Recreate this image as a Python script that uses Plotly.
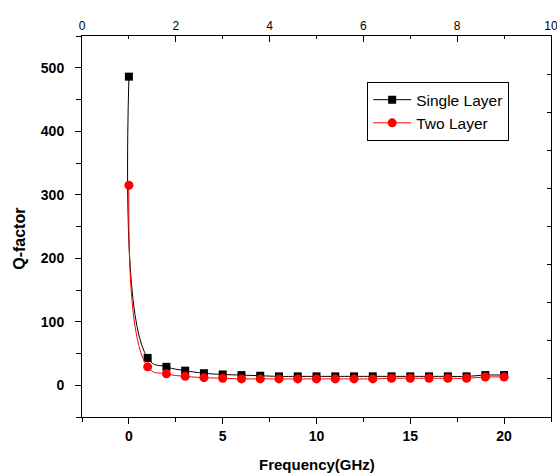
import plotly.graph_objects as go

freq = list(range(0, 21))
single_layer = [486, 43, 29, 23, 19, 17, 16, 15, 14, 14, 14, 14, 14, 14, 14, 14, 14, 14, 14, 16, 16]
two_layer = [315, 29, 18, 14, 12, 11, 10, 10, 10, 10, 10, 10, 10, 10, 11, 11, 11, 11, 11, 13, 13]

x_tick_vals = [0, 5, 10, 15, 20]
y_tick_vals = [0, 100, 200, 300, 400, 500]
top_tick_vals = [0, 2, 4, 6, 8, 10]

FONT = "Liberation Sans, Arial, sans-serif"

fig = go.Figure()
fig.add_trace(go.Scatter(
    x=freq, y=single_layer, name="Single Layer", mode="lines+markers",
    line=dict(color="black", width=1, shape="spline", smoothing=1.3),
    marker=dict(symbol="square", size=8, color="black"),
))
fig.add_trace(go.Scatter(
    x=freq, y=two_layer, name="Two Layer", mode="lines+markers",
    line=dict(color="#ff0000", width=1, shape="spline", smoothing=1.3),
    marker=dict(symbol="circle", size=9, color="#ff0000"),
))
# invisible trace to activate the secondary axes
fig.add_trace(go.Scatter(x=[0, 10], y=[0, 10], xaxis="x2", yaxis="y2",
                         mode="markers", marker=dict(opacity=0), showlegend=False,
                         hoverinfo="skip"))

fig.update_layout(
    width=557, height=475,
    margin=dict(l=82, r=6, t=36, b=58, autoexpand=False),
    paper_bgcolor="white", plot_bgcolor="white",
    font=dict(family=FONT, color="black"),
    showlegend=True,
    legend=dict(x=0.608, y=0.879, xanchor="left", yanchor="top",
                bordercolor="black", borderwidth=1, bgcolor="white",
                font=dict(size=15.5, family=FONT, color="black"),
                tracegroupgap=0, itemwidth=38),
    xaxis=dict(range=[-2.5, 22.5], tickvals=x_tick_vals, ticks="outside", ticklen=6,
               tickwidth=1, tickcolor="black", showline=True, linecolor="black",
               linewidth=1, showgrid=False, zeroline=False, automargin=False,
               tickfont=dict(size=14, family=FONT, color="black", weight="bold"),
               minor=dict(dtick=2.5, tick0=0, ticks="outside", ticklen=4, tickcolor="black")),
    yaxis=dict(range=[-50, 550], tickvals=y_tick_vals, ticks="outside", ticklen=6,
               tickwidth=1, tickcolor="black", showline=True, linecolor="black",
               linewidth=1, showgrid=False, zeroline=False, ticklabelstandoff=8,
               automargin=False,
               tickfont=dict(size=14, family=FONT, color="black", weight="bold"),
               minor=dict(dtick=50, tick0=0, ticks="outside", ticklen=5, tickcolor="black")),
    xaxis2=dict(range=[0, 10.0005], overlaying="x", side="top", tickvals=top_tick_vals,
                ticks="inside", ticklen=6, tickcolor="black", showline=True,
                linecolor="black", linewidth=1, showgrid=False, zeroline=False,
                automargin=False, ticklabeloverflow="allow",
                tickfont=dict(size=12, family=FONT, color="black"),
                minor=dict(dtick=1, tick0=0, ticks="inside", ticklen=3, tickcolor="black")),
    yaxis2=dict(range=[0, 10], overlaying="y", side="right", dtick=1,
                ticks="inside", ticklen=4, tickcolor="black", showline=True,
                linecolor="black", linewidth=1, showgrid=False, zeroline=False,
                showticklabels=False, automargin=False),
    annotations=[
        dict(text="<b>Frequency(GHz)</b>", xref="paper", yref="paper", x=0.5, y=-0.125,
             xanchor="center", yanchor="middle", showarrow=False,
             font=dict(size=15, family=FONT, color="black")),
        dict(text="<b>Q-factor</b>", xref="paper", yref="paper", x=-0.132, y=0.468,
             xanchor="center", yanchor="middle", showarrow=False, textangle=-90,
             font=dict(size=16, family=FONT, color="black")),
    ],
)

fig.write_html("out.html", config={"displayModeBar": False},
               post_script="document.body.style.margin='0';document.body.style.padding='0';")
